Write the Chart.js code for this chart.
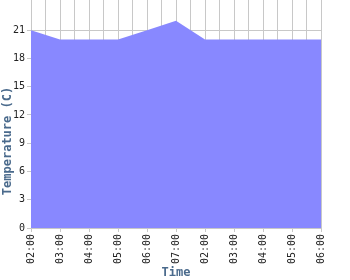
<!DOCTYPE html>
<html>
<head>
<meta charset="utf-8">
<script src="https://cdn.jsdelivr.net/npm/chart.js@4/dist/chart.umd.min.js"></script>
<style>
  html, body { margin: 0; padding: 0; background: #fff; }
  #wrap { width: 350px; height: 280px; }
</style>
</head>
<body>
<div id="wrap"><canvas id="tempChart" width="350" height="280"></canvas></div>
<script>
const timeLabels = ["02:00", "03:00", "04:00", "05:00", "06:00", "07:00",
                    "02:00", "03:00", "04:00", "05:00", "06:00"];
const temperatures = [21, 20, 20, 20, 21, 22, 20, 20, 20, 20, 20];
const yTicks = [0, 3, 6, 9, 12, 15, 18, 21];

const tickFont = { family: "'DejaVu Sans Mono', monospace", size: 10 };
const titleFont = { family: "'DejaVu Sans Mono', monospace", size: 12, weight: "bold" };
const titleColor = "#4a6a8c";
const gridColor = "#c8c8c8";

// y title sits centred on the whole canvas, not on the plot
const yTitle = {
  id: "yTitle",
  afterDraw(chart) {
    const c = chart.ctx;
    c.save();
    c.translate(8, 141);
    c.rotate(-Math.PI / 2);
    c.font = "bold 12px 'DejaVu Sans Mono', monospace";
    c.fillStyle = titleColor;
    c.textAlign = "center";
    c.textBaseline = "middle";
    c.fillText("Temperature (C)", 0, 0);
    c.restore();
  }
};

const ctx = document.getElementById("tempChart").getContext("2d");

new Chart(ctx, {
  type: "line",
  data: {
    datasets: [
      {
        data: temperatures.map((t, i) => ({ x: i, y: t })),
        fill: "origin",
        backgroundColor: "#8888ff",
        borderWidth: 0,
        pointRadius: 0,
        tension: 0
      }
    ]
  },
  options: {
    responsive: false,
    animation: false,
    layout: { padding: { top: 0, right: 29, left: 0, bottom: 0 } },
    plugins: {
      legend: { display: false },
      tooltip: { enabled: false }
    },
    scales: {
      x: {
        type: "linear",
        min: 0,
        max: timeLabels.length - 1,
        border: { display: false },
        grid: {
          color: gridColor,
          tickLength: 4,
          tickColor: c => Number.isInteger(c.tick.value) ? gridColor : "transparent"
        },
        ticks: {
          stepSize: 0.5,
          autoSkip: false,
          maxRotation: 90,
          minRotation: 90,
          padding: 2,
          color: "#222",
          font: tickFont,
          callback: v => Number.isInteger(v) ? timeLabels[v] : ""
        },
        title: { display: true, text: "Time", color: titleColor, font: titleFont, padding: 0 },
        afterFit: s => { s.height = 52; s.paddingLeft = 0; s.paddingRight = 0; }
      },
      y: {
        min: 0,
        max: 24.2,
        border: { display: false },
        afterBuildTicks: s => { s.ticks = yTicks.map(v => ({ value: v })); },
        grid: { color: gridColor, tickLength: 4 },
        ticks: { color: "#222", font: tickFont, padding: 2 },
        title: { display: false },
        afterFit: s => { s.width = 31; s.paddingTop = 0; s.paddingBottom = 0; }
      }
    }
  },
  plugins: [yTitle]
});
</script>
</body>
</html>
